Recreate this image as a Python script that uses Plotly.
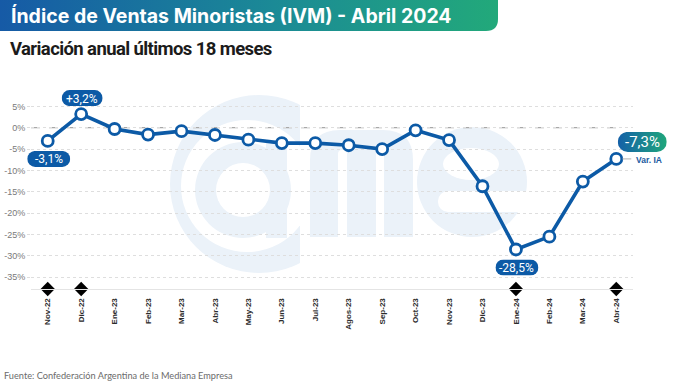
import base64
import plotly.graph_objects as go

# ---------------- data ----------------
months = ["Nov-22", "Dic-22", "Ene-23", "Feb-23", "Mar-23", "Abr-23", "May-23", "Jun-23",
          "Jul-23", "Agos-23", "Sep-23", "Oct-23", "Nov-23", "Dic-23", "Ene-24", "Feb-24",
          "Mar-24", "Abr-24"]
var_ia = [-3.1, 3.2, -0.3, -1.6, -0.8, -1.7, -2.8, -3.6, -3.6, -4.1, -5.0, -0.6, -2.9,
          -13.7, -28.5, -25.5, -12.6, -7.3]
y_tickvals = [5, 0, -5, -10, -15, -20, -25, -30, -35]
y_ticktext = ["5%", "0%", "-5%", "-10%", "-15%", "-20%", "-25%", "-30%", "-35%"]
diamond_months = ["Nov-22", "Dic-22", "Ene-24", "Abr-24"]
label_below = ["Nov-22", "Ene-24"]
label_above = ["Dic-22"]
label_last = "Abr-24"

title = "Índice de Ventas Minoristas (IVM) - Abril 2024"
subtitle = "Variación anual últimos 18 meses"
source = "Fuente: Confederación Argentina de la Mediana Empresa"
series_name = "Var. IA"

# ---------------- geometry ----------------
W, H = 680, 383
L, R, T, B = 31, 47, 85, 94
PW, PH = W - L - R, H - T - B
XMIN, XMAX = -0.5, len(months) - 0.5
YMIN, YMAX = -37.75, 10

BLUE = "#0c5aa6"
PILLFONT = "Roboto, Arial, sans-serif"


def px_x(i):
    return L + (i - XMIN) * PW / (XMAX - XMIN)


def px_y(v):
    return T + (YMAX - v) * PH / (YMAX - YMIN)


def paper(px, py):
    return (px - L) / PW, (T + PH - py) / PH


def svg_uri(svg):
    return "data:image/svg+xml;base64," + base64.b64encode(svg.encode("utf-8")).decode()


def fmt(v):
    s = f"{v:.1f}".replace(".", ",") + "%"
    return ("+" + s) if v > 0 else s


images, annotations, shapes = [], [], []


def add_image(svg, x0, y0, w, h, layer="above"):
    px0, py0 = paper(x0, y0)
    images.append(dict(source=svg_uri(svg), xref="paper", yref="paper", x=px0, y=py0,
                       sizex=w / PW, sizey=h / PH, xanchor="left", yanchor="top",
                       sizing="stretch", layer=layer))


def add_text(text, x, y, size, color, family, weight="normal", xanchor="center"):
    px0, py0 = paper(x, y)
    annotations.append(dict(text=text, x=px0, y=py0, xref="paper", yref="paper",
                            xanchor=xanchor, yanchor="middle", showarrow=False, borderpad=0,
                            font=dict(size=size, color=color, family=family, weight=weight)))


def pill(cx, cy, w, h, text, size, gradient=False):
    if gradient:
        fill = "url(#g)"
        defs = ('<defs><linearGradient id="g" x1="0" y1="0" x2="1" y2="0">'
                '<stop offset="0" stop-color="#1460a8"/><stop offset="1" stop-color="#1fa67b"/>'
                '</linearGradient></defs>')
    else:
        fill, defs = BLUE, ""
    svg = (f'<svg xmlns="http://www.w3.org/2000/svg" width="{w}" height="{h}" '
           f'viewBox="0 0 {w} {h}">{defs}<rect x="0" y="0" width="{w}" height="{h}" '
           f'rx="{h/2}" ry="{h/2}" fill="{fill}"/></svg>')
    add_image(svg, cx - w / 2, cy - h / 2, w, h)
    add_text(text, cx, cy + 0.5, size, "white", PILLFONT)


# ---------------- header banner ----------------
banner = ('<svg xmlns="http://www.w3.org/2000/svg" width="498" height="31" viewBox="0 0 498 31">'
          '<defs><linearGradient id="b" x1="0" y1="0" x2="1" y2="0">'
          '<stop offset="0" stop-color="#165aa6"/><stop offset="0.55" stop-color="#1b8a96"/>'
          '<stop offset="1" stop-color="#22a97a"/></linearGradient></defs>'
          '<path d="M0,0 H498 V19 Q498 31 486 31 H0 Z" fill="url(#b)"/></svg>')
add_image(banner, 0, 0, 498, 31)
add_text(title, 10, 15.5, 19.5, "white", "Inter, Roboto, Arial, sans-serif", weight="bold", xanchor="left")
add_text('<span style="letter-spacing:-0.6px">' + subtitle + '</span>', 9, 49, 18.5, "#1b1b1b",
         "Roboto, Arial, sans-serif", weight="bold", xanchor="left")
add_text(source, 3, 375, 9.2, "#6b6b6b", "Lato, Open Sans, sans-serif", xanchor="left")

# ---------------- watermark logo ----------------
c = "#ebf2f9"
logo = f'''<svg xmlns="http://www.w3.org/2000/svg" width="380" height="190" viewBox="160 90 380 190">
<defs><clipPath id="k"><rect x="150" y="80" width="150" height="210"/></clipPath></defs>
<g clip-path="url(#k)">
<circle cx="259" cy="184" r="89" fill="{c}"/>
<circle cx="247" cy="186" r="66" fill="white"/>
</g>
<circle cx="243" cy="190" r="48" fill="{c}"/>
<rect x="266" y="142" width="21" height="96" fill="{c}"/>
<circle cx="243" cy="190" r="27" fill="white"/>
<path d="M310,237 V160 Q310,130 340,130 H383 Q413,130 413,160 V237 Z" fill="{c}"/>
<rect x="338" y="150" width="9" height="95" rx="4" fill="white"/>
<rect x="376" y="150" width="8" height="95" rx="4" fill="white"/>
<circle cx="472" cy="182" r="55" fill="{c}"/>
<ellipse cx="471" cy="164" rx="28" ry="16" fill="white"/>
<rect x="438" y="191" width="110" height="21" rx="10" fill="white"/>
</svg>'''
add_image(logo, 160, 90, 380, 190, layer="below")

# ---------------- labels ----------------
for m in label_above:
    i = months.index(m)
    pill(px_x(i) + 1, px_y(var_ia[i]) - 16, 41, 16, fmt(var_ia[i]), 12)
for m in label_below:
    i = months.index(m)
    pill(px_x(i) + 1, px_y(var_ia[i]) + 18, 43, 16, fmt(var_ia[i]), 12)
i_last = months.index(label_last)
lx, ly = px_x(i_last), px_y(var_ia[i_last])
pill(lx + 26, ly - 17, 49, 20, fmt(var_ia[i_last]), 15, gradient=True)
add_text(series_name, lx + 33, ly + 1, 8.5, "#1c5aa0", "Arial, sans-serif", weight="bold")
shapes.append(dict(type="line", xref="paper", yref="paper",
                   x0=paper(lx + 6, 0)[0], x1=paper(lx + 15, 0)[0],
                   y0=paper(0, ly)[1], y1=paper(0, ly)[1],
                   line=dict(color="#b0b0b0", width=1)))

# zero dashed reference line
shapes.append(dict(type="line", xref="paper", yref="y", x0=0, x1=0.985, y0=0, y1=0,
                   line=dict(color="#a8a8a8", width=1.2, dash="dash"), layer="between"))

# ---------------- traces ----------------
x_idx = list(range(len(months)))
fig = go.Figure()
fig.add_trace(go.Scatter(
    x=x_idx, y=var_ia, mode="lines+markers",
    line=dict(color=BLUE, width=3.6),
    marker=dict(size=11, color="white", line=dict(color=BLUE, width=2.8)),
    hoverinfo="skip", showlegend=False))
fig.add_trace(go.Scatter(
    x=[months.index(m) for m in diamond_months], y=[YMIN] * len(diamond_months),
    mode="markers", marker=dict(symbol="diamond", size=11, color="black"),
    cliponaxis=False, hoverinfo="skip", showlegend=False))

fig.update_layout(
    width=W, height=H, autosize=False,
    margin=dict(l=L, r=R, t=T, b=B, pad=0, autoexpand=False),
    paper_bgcolor="white", plot_bgcolor="white",
    images=images, annotations=annotations, shapes=shapes,
    xaxis=dict(range=[XMIN, XMAX], tickvals=x_idx, ticktext=months, tickangle=-90,
               automargin=False,
               showgrid=False, zeroline=False, showline=True, linecolor="#e4e4e4", linewidth=1,
               ticks="", ticklabelstandoff=5,
               tickfont=dict(size=8, color="#2b2b2b", family="Arial, sans-serif", weight="bold")),
    yaxis=dict(range=[YMIN, YMAX], tickvals=y_tickvals, ticktext=y_ticktext,
               automargin=False,
               showgrid=True, gridcolor="#dedede", griddash="dot", gridwidth=1,
               zeroline=False, showline=False, ticks="outside", ticklen=3, tickcolor="#dddddd",
               tickfont=dict(size=9, color="#7a7a7a", family="Arial, sans-serif")),
)

fig.write_html("out.html", config={"displayModeBar": False},
               post_script="document.body.style.margin='0';document.body.style.padding='0';")
